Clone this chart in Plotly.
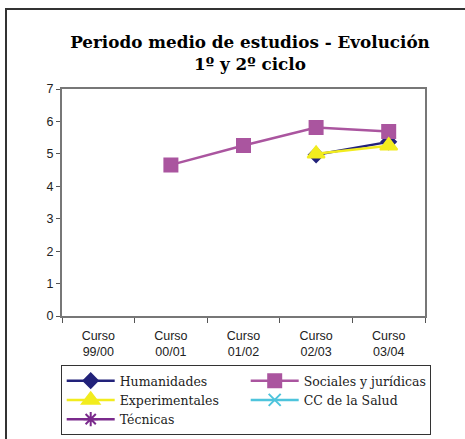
import plotly.graph_objects as go

categories = ["Curso<br>99/00", "Curso<br>00/01", "Curso<br>01/02", "Curso<br>02/03", "Curso<br>03/04"]
humanidades = [None, None, None, 4.97, 5.37]
sociales = [None, 4.66, 5.26, 5.81, 5.69]
experimentales = [None, None, None, 5.0, 5.25]
cc_salud = [None, None, None, None, None]
tecnicas = [None, None, None, None, None]

series = [
    ("Humanidades", humanidades, "#22227A", "diamond", 11),
    ("Sociales y jurídicas", sociales, "#AA559F", "square", 13),
    ("Experimentales", experimentales, "#F2EC1E", "triangle-up", 15),
    ("CC de la Salud", cc_salud, "#4EC4DC", "x-thin", 12),
    ("Técnicas", tecnicas, "#7A2A8C", "asterisk", 12),
]

fig = go.Figure()
for name, vals, color, symbol, size in series:
    fig.add_trace(go.Scatter(
        x=categories, y=vals, name=name, mode="lines+markers",
        line=dict(color=color, width=2.5),
        marker=dict(symbol=symbol, size=size, color=color,
                    line=dict(color=color, width=2)),
        connectgaps=False,
    ))

axis_font = dict(family="Liberation Sans, Arial, sans-serif", size=12.5, color="#222")

PW = 403.0  # paper width in px (starts at x=62)
PH = 227.0  # paper height in px (starts at y=89)

fig.update_layout(
    width=465, height=439,
    margin=dict(l=62, r=0, t=89, b=123),
    paper_bgcolor="white", plot_bgcolor="white",
    title=dict(
        text="Periodo medio de estudios - Evolución<br>1º y 2º ciclo",
        x=250 / 465, xanchor="center", xref="container",
        y=(439 - 48) / 439, yanchor="top", yref="container",
        font=dict(family="DejaVu Serif, serif", size=16.8, color="black", weight="bold"),
    ),
    showlegend=True,
    legend=dict(
        orientation="h", x=(60.7 - 62) / PW, xanchor="left",
        y=(316 - 365) / PH, yanchor="top",
        entrywidth=121, entrywidthmode="pixels", itemwidth=48,
        bordercolor="#333", borderwidth=1, bgcolor="white",
        font=dict(family="DejaVu Serif, serif", size=12.5, color="#222"),
        traceorder="normal",
    ),
    xaxis=dict(
        domain=[0, 363 / PW],
        type="category", tickson="boundaries", ticks="outside", ticklen=5,
        tickcolor="#555", showline=True, linecolor="#777", linewidth=2, mirror=True,
        showgrid=False, tickfont=axis_font, range=[-0.5, 4.5],
        ticklabelstandoff=7,
    ),
    yaxis=dict(
        range=[0, 7], dtick=1, ticks="outside", ticklen=4, tickcolor="#555",
        showline=True, linecolor="#777", linewidth=2, mirror=True,
        showgrid=False, zeroline=False, tickfont=axis_font,
    ),
    shapes=[dict(
        type="rect", xref="paper", yref="paper",
        x0=(6 - 62) / PW, x1=(475 - 62) / PW,
        y0=(316 - 450) / PH, y1=(316 - 9) / PH,
        line=dict(color="#333", width=2), layer="below",
    )],
)

fig.write_html("out.html", config={"displayModeBar": False},
               post_script="document.body.style.margin='0';")
